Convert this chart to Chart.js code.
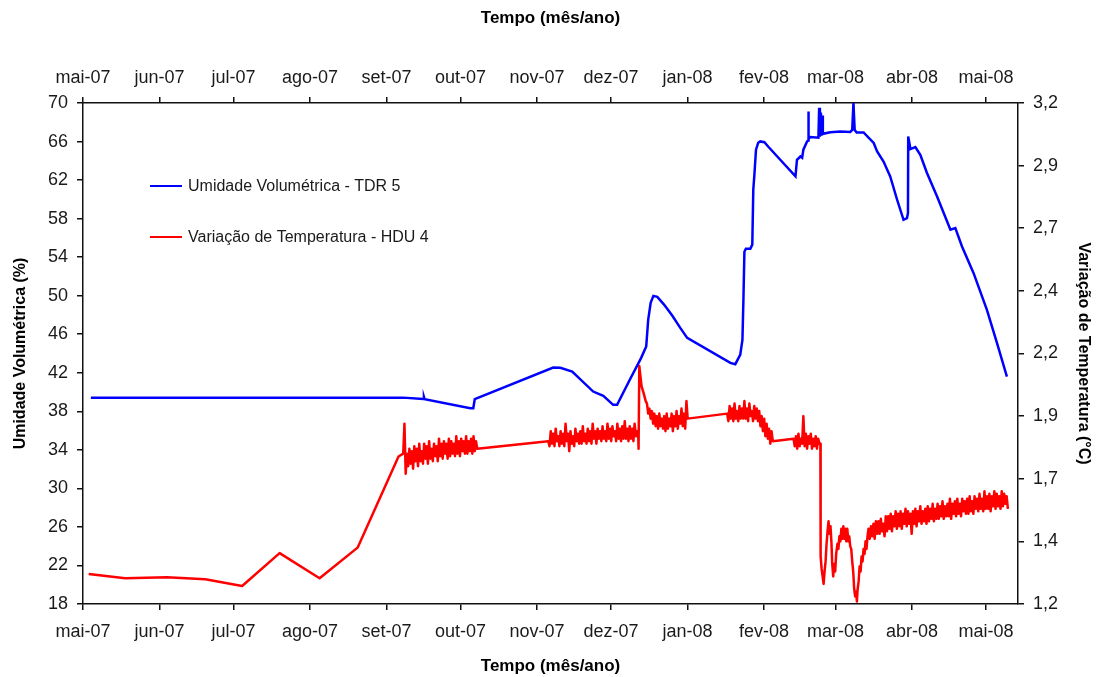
<!DOCTYPE html>
<html>
<head>
<meta charset="utf-8">
<script src="https://cdn.jsdelivr.net/npm/chart.js@4"></script>
<style>
  body { margin: 0; background: #fff; }
  #box { width: 1101px; height: 677px; }
</style>
</head>
<body>
<div id="box"><canvas id="tdrChart" width="1101" height="677"></canvas></div>
<script>
// x axis: days counted from 1 May 2007
const monthLabels = ['mai-07','jun-07','jul-07','ago-07','set-07','out-07','nov-07','dez-07','jan-08','fev-08','mar-08','abr-08','mai-08'];
const monthStartDays = [0, 31, 61, 92, 123, 153, 184, 214, 245, 276, 305, 336, 366];
const lastDay = 379;

const umidadeTicks = { min: 18, max: 70, step: 4 };
const tempTickLabels = ['1,2','1,4','1,7','1,9','2,2','2,4','2,7','2,9','3,2'];

// Umidade Volumétrica - TDR 5 (%), [day, value]
const umidadePoints = [
  [3.2, 39.42], [129.8, 39.42], [137.9, 39.29], [138.2, 39.5], [138.5, 39.25],
  [157.0, 38.32], [158.2, 38.32], [158.8, 39.26], [190.6, 42.54], [193.5, 42.51],
  [198.3, 42.12], [206.8, 40.05], [210.9, 39.6], [214.9, 38.67], [216.5, 38.67],
  [221.9, 41.4], [226.2, 43.52], [228.3, 44.72], [229.1, 47.5], [230.1, 49.26],
  [231.2, 49.98], [232.8, 49.88], [235.6, 49.05], [238.9, 47.91], [242.1, 46.66],
  [244.9, 45.62], [262.4, 43.03], [264.4, 42.89], [266.4, 43.86], [267.3, 45.42],
  [267.7, 49.57], [268.1, 54.56], [268.7, 54.87], [270.5, 54.87], [271.3, 55.3],
  [271.7, 61.0], [272.1, 62.38], [272.8, 65.15], [273.7, 65.88], [274.5, 66.01],
  [276.2, 65.93], [277.8, 65.46], [288.8, 62.38], [289.4, 64.11], [290.8, 64.45],
  [291.5, 64.32], [292.0, 65.15], [293.5, 66.01], [293.9, 66.1], [294.0, 69.13],
  [294.2, 66.29], [294.9, 66.47], [298.1, 66.4], [298.4, 69.5], [298.7, 66.5],
  [299.1, 69.0], [299.4, 66.6], [299.6, 68.7], [299.9, 66.8], [302.9, 66.97],
  [307.0, 67.05], [311.0, 67.0], [311.8, 67.2], [312.3, 70.0], [312.8, 67.2],
  [313.6, 66.95], [316.4, 66.95], [320.5, 65.85], [321.9, 64.97], [324.5, 63.93],
  [327.2, 62.38], [330.0, 59.96], [332.6, 57.88], [334.0, 58.06], [334.4, 58.58],
  [334.5, 66.53], [335.4, 65.22], [337.4, 65.43], [339.4, 64.63], [342.1, 62.73],
  [346.2, 60.30], [351.6, 56.84], [353.6, 57.02], [356.3, 55.11], [361.0, 52.34],
  [366.4, 48.53], [370.5, 45.07], [374.5, 41.60]
];

// Variação de Temperatura - HDU 4 (°C): sparse readings, [day, value]
const tempEarly = [
  [2.3, 1.32], [17.1, 1.303], [34.0, 1.307], [49.6, 1.299], [64.5, 1.272],
  [79.7, 1.403], [95.9, 1.303], [111.3, 1.425], [127.9, 1.789]
];

// dense logger runs: first day, spacing in days, readings
const runSet = { start: 129.8, step: 0.5, values: [
  1.80, 1.92, 1.72, 1.80, 1.75, 1.82, 1.76, 1.81,
  1.74, 1.83, 1.77, 1.82, 1.75, 1.84, 1.77, 1.81,
  1.76, 1.84, 1.78, 1.83, 1.76, 1.85, 1.78, 1.82,
  1.77, 1.84, 1.79, 1.83, 1.77, 1.86, 1.79, 1.84,
  1.78, 1.85, 1.80, 1.84, 1.78, 1.86, 1.79, 1.85,
  1.80, 1.84, 1.79, 1.87, 1.80, 1.85, 1.79, 1.86,
  1.81, 1.85, 1.80, 1.87, 1.80, 1.85, 1.81, 1.86,
  1.80, 1.87, 1.81, 1.85, 1.82
]};

const runNov = { start: 188.6, step: 0.5, values: [
  1.85, 1.83, 1.89, 1.84, 1.88, 1.83, 1.90, 1.85,
  1.87, 1.83, 1.89, 1.84, 1.88, 1.83, 1.92, 1.85,
  1.88, 1.81, 1.89, 1.84, 1.87, 1.83, 1.90, 1.85,
  1.88, 1.84, 1.89, 1.84, 1.91, 1.85, 1.88, 1.84,
  1.90, 1.85, 1.89, 1.84, 1.92, 1.86, 1.89, 1.84,
  1.90, 1.86, 1.89, 1.85, 1.91, 1.86, 1.89, 1.85,
  1.92, 1.86, 1.90, 1.85, 1.91, 1.87, 1.89, 1.85,
  1.92, 1.86, 1.90, 1.85, 1.91, 1.86, 1.93, 1.86,
  1.90, 1.85, 1.91, 1.86, 1.90, 1.85, 1.92, 1.87,
  1.89, 1.86
]};

const tempPeakDez = [[225.2, 1.82], [225.5, 2.15], [226.4, 2.07], [227.3, 2.04], [228.1, 2.01]];

const runDez = { start: 228.6, step: 0.5, values: [
  2.00, 1.96, 1.98, 1.94, 1.97, 1.92, 1.96, 1.91,
  1.95, 1.90, 1.96, 1.91, 1.94, 1.90, 1.95, 1.89,
  1.96, 1.90, 1.94, 1.91, 1.96, 1.89, 1.95, 1.91,
  1.97, 1.90, 1.95, 1.92, 1.98, 1.91, 1.96, 1.90,
  2.01, 1.94
]};

const runJan = { start: 261.1, step: 0.5, values: [
  1.96, 1.93, 1.99, 1.94, 1.98, 1.93, 2.00, 1.94,
  1.97, 1.93, 1.99, 1.94, 1.98, 1.94, 2.01, 1.94,
  1.98, 1.93, 2.00, 1.95, 1.97, 1.93, 1.99, 1.94,
  1.98, 1.93, 1.97, 1.91, 1.95, 1.89, 1.94, 1.87,
  1.92, 1.86, 1.90, 1.84, 1.89, 1.85
]};

const runFev = { start: 288.0, step: 0.5, values: [
  1.86, 1.83, 1.87, 1.82, 1.88, 1.83, 1.86, 1.84,
  1.95, 1.83, 1.88, 1.82, 1.87, 1.84, 1.88, 1.82,
  1.86, 1.83, 1.87, 1.82, 1.86, 1.84
]};

const tempDrop = [
  [298.9, 1.84], [299.0, 1.39], [299.4, 1.34], [299.8, 1.31], [300.2, 1.28],
  [300.6, 1.33], [301.0, 1.37], [301.4, 1.44], [301.8, 1.49], [302.2, 1.53],
  [302.6, 1.48], [303.0, 1.51], [303.4, 1.44], [303.7, 1.36], [304.1, 1.31],
  [304.5, 1.36], [304.9, 1.33], [305.3, 1.40], [305.8, 1.44], [306.2, 1.42],
  [306.6, 1.47], [307.0, 1.45], [307.4, 1.50], [307.8, 1.46], [308.2, 1.51],
  [308.6, 1.46], [309.0, 1.50], [309.4, 1.45], [309.8, 1.50], [310.2, 1.45],
  [310.6, 1.47], [311.0, 1.43], [311.4, 1.42], [311.8, 1.37], [312.2, 1.33],
  [312.6, 1.26], [313.0, 1.23], [313.4, 1.25], [313.7, 1.21], [314.0, 1.26],
  [314.4, 1.29], [314.8, 1.35], [315.2, 1.33], [315.6, 1.39], [316.0, 1.37],
  [316.4, 1.42], [316.8, 1.40], [317.2, 1.45], [317.6, 1.42], [318.0, 1.47]
];

const runMar = { start: 318.4, step: 0.5, values: [
  1.50, 1.46, 1.51, 1.47, 1.52, 1.46, 1.53, 1.48,
  1.53, 1.48, 1.54, 1.49, 1.52, 1.47, 1.55, 1.49,
  1.55, 1.50, 1.56, 1.49, 1.55, 1.51, 1.57, 1.50,
  1.56, 1.51, 1.57, 1.50, 1.56, 1.52, 1.58, 1.51,
  1.57, 1.52, 1.56, 1.48, 1.57, 1.52, 1.58, 1.51,
  1.57, 1.53, 1.59, 1.52, 1.57, 1.53, 1.58, 1.52,
  1.59, 1.53, 1.58, 1.54, 1.60, 1.53, 1.58, 1.54,
  1.60, 1.54, 1.59, 1.55, 1.61, 1.54, 1.59, 1.55,
  1.60, 1.55, 1.62, 1.54, 1.60, 1.56, 1.61, 1.55,
  1.62, 1.56, 1.60, 1.55, 1.62, 1.57, 1.61, 1.56,
  1.62, 1.56, 1.63, 1.57, 1.61, 1.56, 1.63, 1.58,
  1.62, 1.57, 1.64, 1.58, 1.62, 1.57, 1.65, 1.58,
  1.63, 1.58, 1.64, 1.57, 1.63, 1.59, 1.65, 1.58,
  1.64, 1.59, 1.63, 1.58, 1.65, 1.59, 1.64, 1.60, 1.63, 1.58
]};

function pairsToXY(pairs) {
  return pairs.map(([x, y]) => ({ x, y }));
}
function runToXY(run) {
  return run.values.map((y, i) => ({ x: run.start + i * run.step, y }));
}

const tempData = [].concat(
  pairsToXY(tempEarly), runToXY(runSet), runToXY(runNov), pairsToXY(tempPeakDez),
  runToXY(runDez), runToXY(runJan), runToXY(runFev), pairsToXY(tempDrop), runToXY(runMar)
);

const FONT = "'Liberation Sans', Arial, sans-serif";
const AXIS_COLOR = '#111';

// legend drawn inside the plot, upper left
const insideLegend = {
  id: 'insideLegend',
  afterDatasetsDraw(chart) {
    const { ctx, chartArea } = chart;
    ctx.save();
    ctx.font = '16px ' + FONT;
    ctx.textBaseline = 'middle';
    chart.data.datasets.forEach((ds, i) => {
      const y = chartArea.top + 83 + i * 51;
      const x = chartArea.left + 67;
      ctx.strokeStyle = ds.borderColor;
      ctx.lineWidth = 2;
      ctx.beginPath();
      ctx.moveTo(x, y);
      ctx.lineTo(x + 32, y);
      ctx.stroke();
      ctx.fillStyle = '#1a1a1a';
      ctx.fillText(ds.label, x + 38, y + 1);
    });
    ctx.restore();
  }
};

const monthAxis = (position, height, titlePad, tickPad) => ({
  type: 'linear',
  position,
  min: 0,
  max: lastDay,
  afterBuildTicks: (scale) => { scale.ticks = monthStartDays.map(v => ({ value: v })); },
  afterFit: (scale) => { scale.height = height; },
  border: { color: AXIS_COLOR, width: 1.5 },
  grid: { drawOnChartArea: false, color: AXIS_COLOR, lineWidth: 1.5, tickLength: 6 },
  ticks: {
    autoSkip: false, maxRotation: 0, padding: tickPad,
    color: '#1a1a1a', font: { family: FONT, size: 18 },
    callback: (v, i) => monthLabels[i]
  },
  title: {
    display: true, text: 'Tempo (mês/ano)', color: '#000',
    font: { family: FONT, size: 17, weight: 'bold' }, padding: titlePad
  }
});

new Chart(document.getElementById('tdrChart'), {
  type: 'line',
  data: {
    datasets: [
      {
        label: 'Umidade Volumétrica - TDR 5',
        data: pairsToXY(umidadePoints),
        borderColor: '#0000ff',
        borderWidth: 2.5,
        pointRadius: 0,
        tension: 0,
        xAxisID: 'x',
        yAxisID: 'y'
      },
      {
        label: 'Variação de Temperatura - HDU 4',
        data: tempData,
        borderColor: '#ff0000',
        borderWidth: 2.5,
        borderJoinStyle: 'round',
        pointRadius: 0,
        tension: 0,
        xAxisID: 'x',
        yAxisID: 'y1'
      }
    ]
  },
  options: {
    responsive: false,
    animation: false,
    layout: { padding: 0 },
    plugins: { legend: { display: false }, tooltip: { enabled: false } },
    scales: {
      x: monthAxis('bottom', 73, { top: 0, bottom: 0 }, 11),
      x2: monthAxis('top', 103, { top: 8, bottom: 0 }, 8),
      y: {
        position: 'left',
        min: umidadeTicks.min,
        max: umidadeTicks.max,
        afterFit: (scale) => { scale.width = 83; },
        border: { color: AXIS_COLOR, width: 1.5 },
        grid: { drawOnChartArea: false, color: AXIS_COLOR, lineWidth: 1.5, tickLength: 6 },
        ticks: { stepSize: umidadeTicks.step, padding: 9, color: '#1a1a1a', font: { family: FONT, size: 18 } },
        title: {
          display: true, text: 'Umidade Volumétrica (%)', color: '#000',
          font: { family: FONT, size: 16, weight: 'bold' }, padding: { top: 11, bottom: 0 }
        }
      },
      y1: {
        position: 'right',
        min: 1.2,
        max: 3.2,
        afterFit: (scale) => { scale.width = 83; },
        border: { color: AXIS_COLOR, width: 1.5 },
        grid: { drawOnChartArea: false, color: AXIS_COLOR, lineWidth: 1.5, tickLength: 6 },
        ticks: {
          stepSize: 0.25, padding: 9, color: '#1a1a1a', font: { family: FONT, size: 18 },
          callback: (v, i) => tempTickLabels[i]
        },
        title: {
          display: true, text: 'Variação de Temperatura (°C)', color: '#000',
          font: { family: FONT, size: 16, weight: 'bold' }, padding: { top: 8, bottom: 0 }
        }
      }
    }
  },
  plugins: [insideLegend]
});
</script>
</body>
</html>
